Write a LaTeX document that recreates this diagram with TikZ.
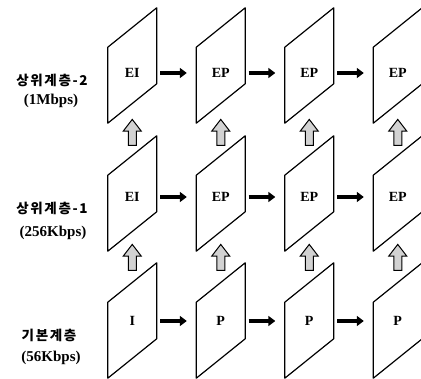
\documentclass[tikz,border=0pt]{standalone}
\usepackage{fontspec}
\setmainfont{Liberation Serif}
\newfontfamily\krfont[LetterSpace=12]{Noto Sans CJK KR}
\usetikzlibrary{arrows.meta,shapes.arrows,calc}
\begin{document}
\begin{tikzpicture}[x=1pt,y=-1pt,
  frame/.style={minimum width=48.5pt,minimum height=115pt,inner sep=0pt,draw=none},
  para/.style={line width=1.2pt,line join=round},
  boxtext/.style={font=\fontsize{14}{14}\selectfont\bfseries,inner sep=1pt},
  sidekr/.style={font=\fontsize{13.5}{13.5}\selectfont\krfont\bfseries,inner sep=0pt},
  siderate/.style={font=\fontsize{15}{15}\selectfont\bfseries,inner sep=0pt},
  harrow/.style={line width=3.6pt,-{Triangle[length=7pt,width=10pt]}},
  uparr/.style={single arrow,shape border rotate=90,draw,line width=1pt,fill=gray!35,
    minimum height=26pt,inner sep=3.5pt,single arrow head extend=5pt,
    single arrow tip angle=75,single arrow head indent=0pt}]
\useasboundingbox (0,0) rectangle (421,379);
% frames
\foreach \r/\yc in {1/65.5,2/193.5,3/320.5}{
  \foreach \c/\xc in {1/132.25,2/220.75,3/309.25,4/397.75}{
    \node[frame] (f\r\c) at (\xc,\yc) {};
    \draw[para] (f\r\c.south west) -- ([yshift=76pt]f\r\c.south west)
      -- (f\r\c.north east) -- ([yshift=-76pt]f\r\c.north east) -- cycle;
  }
}
% texts in frames
\foreach \r/\yt/\a/\b in {1/73/EI/EP,2/197/EI/EP,3/321/I/P}{
  \foreach \c/\xc in {1/132.25,2/220.75,3/309.25,4/397.75}{
    \node[boxtext] (t\r\c) at (\xc,\yt) {\ifnum\c=1 \a\else \b\fi};
  }
}
% horizontal arrows
\foreach \r in {1,2,3}{
  \foreach \c/\d in {1/2,2/3,3/4}{
    \draw[harrow] ($(f\r\c.east |- t\r\c)+(3.5,0)$) -- ($(f\r\d.west |- t\r\c)+(-9.5,0)$);
  }
}
% upward block arrows
\foreach \c in {1,2,3,4}{
  \node[uparr] (ua\c) at ($(f1\c.center)+(0,69.5)$) {};
  \node[uparr] (ub\c) at ($(f2\c.center)+(0,66.5)$) {};
}
% side labels
\node[sidekr] (l1a) at (52,80) {상위계층-2};
\node[siderate] (l1b) at (51,101) {(1Mbps)};
\node[sidekr] (l2a) at (52,208) {상위계층-1};
\node[siderate] (l2b) at (53,233) {(256Kbps)};
\node[sidekr] (l3a) at (49,335) {기본계층};
\node[siderate] (l3b) at (51,358) {(56Kbps)};
\end{tikzpicture}
\end{document}
